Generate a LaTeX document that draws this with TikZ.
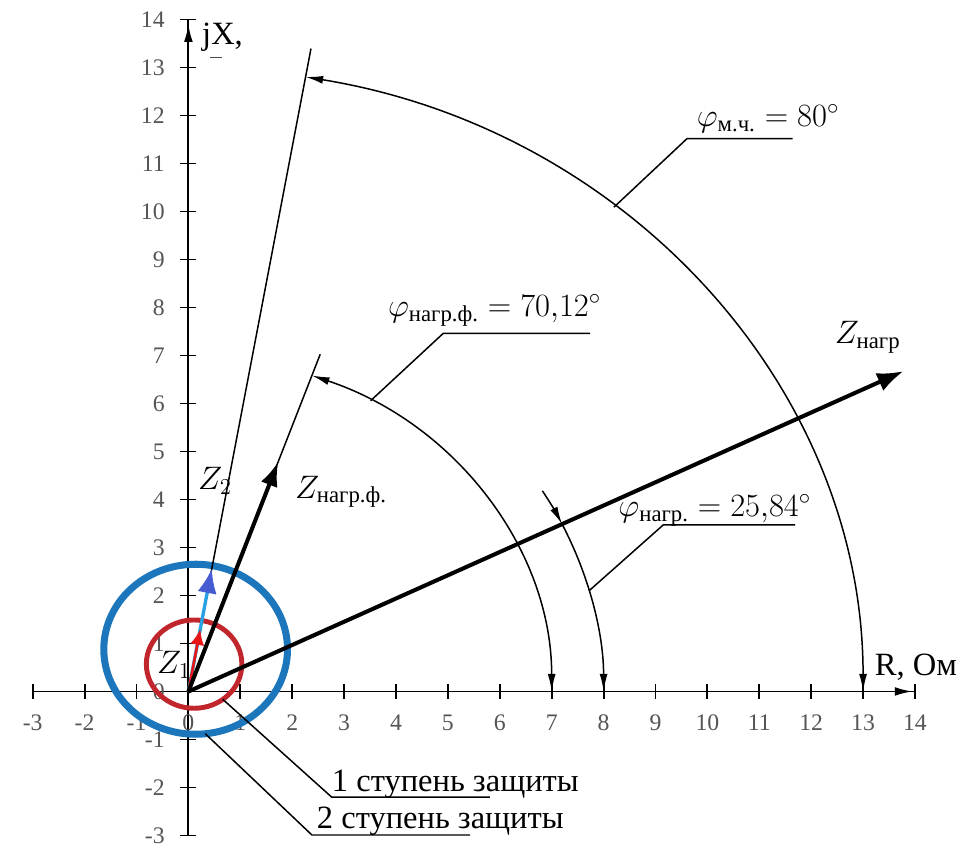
\RequirePackage{fix-cm}
\documentclass[tikz,border=0pt]{standalone}
\usepackage{amsmath}
\usepackage{fontspec}
\setmainfont{Liberation Serif}
\usetikzlibrary{arrows.meta,positioning}

\definecolor{zoneone}{RGB}{192,38,44}
\definecolor{zonetwo}{RGB}{28,118,188}
\definecolor{ztwoshaft}{RGB}{40,160,225}
\definecolor{ztwohead}{RGB}{70,92,210}
\definecolor{zonered}{RGB}{232,22,22}
\definecolor{ticklbl}{RGB}{85,85,85}

\tikzset{
  axisline/.style={line width=1.1pt},
  thinline/.style={line width=0.85pt},
  zvec/.style={line width=2.3pt, -{Latex[length=14pt,width=10pt]}},
  dimarc/.style={line width=0.85pt, -{Latex[length=10pt,width=4.5pt]}},
  ticklabel/.style={font=\fontsize{13.5}{15}\selectfont, text=ticklbl, inner sep=0pt},
  mathlabel/.style={font=\fontsize{18.5}{22}\selectfont, inner sep=0pt, anchor=base west},
  textlabel/.style={font=\fontsize{18.5}{22}\selectfont, inner sep=0pt, anchor=base west}
}

\begin{document}
\begin{tikzpicture}[x=1.038cm, y=0.96cm]
    \useasboundingbox (-3.630,-3.198) rectangle (14.848,14.406);

    % axes
    \coordinate (O) at (0,0);
    \coordinate (xend) at (13.95,0);
    \coordinate (yend) at (0,13.9);
    \draw[axisline] (-3,0) -- (14,0);
    \draw[axisline] (0,-3) -- (0,14);
    \draw[axisline, -{Latex[length=10pt,width=5pt]}] (O) -- (xend);
    \draw[axisline, -{Latex[length=10pt,width=5pt]}] (O) -- (yend);
    \foreach \i in {-3,...,14} {
        \draw[axisline] (\i,0.16) -- (\i,-0.16);
        \draw[axisline] (0.155,\i) -- (-0.155,\i);
        \node[ticklabel] (xt\i) at (\i,-0.65) {\i};
        \node[ticklabel, anchor=east] (yt\i) at (-0.45,\i) {\i};
    }
    \node[textlabel] (xlab) at (13.22,0.34) {R, Ом};
    \node[textlabel] (ylab) at (0.26,13.47) {jX,};
    \draw[line width=0.6pt, black!70] (0.42,13.2) -- (0.65,13.2);

    % protection zones
    \draw[zonetwo, line width=4pt] (0.14,0.88) ellipse [x radius=1.837cm, y radius=1.70cm];
    \draw[zoneone, line width=2.8pt] (0.11,0.57) ellipse [x radius=0.955cm, y radius=0.883cm];

    % rays
    \coordinate (mchend) at (2.362,13.393);
    \coordinate (nfend) at (2.540,7.025);
    \draw[thinline] (O) -- (mchend);
    \draw[thinline] (O) -- (nfend);

    % vectors
    \coordinate (ztwo) at (0.451,2.561);
    \coordinate (zone) at (0.229,1.300);
    \coordinate (znf) at (1.731,4.787);
    \coordinate (zn) at (13.780,6.673);
    \draw[ztwoshaft, line width=1.9pt, -{Latex[length=14pt,width=11pt,color=ztwohead]}] (O) -- (ztwo);
    \draw[zonered, line width=1.5pt, -{Latex[length=9pt,width=8pt]}] (O) -- (zone);
    \draw[zvec] (O) -- (znf);
    \draw[zvec, -{Latex[length=15pt,width=11pt]}] (O) -- (zn);

    % angle arcs
    \draw[dimarc, {Latex[length=10pt,width=4.5pt]}-{Latex[length=10pt,width=4.5pt]}]
        (13,0) arc [start angle=0, end angle=80, x radius=13.494cm, y radius=12.48cm];
    \draw[dimarc, {Latex[length=10pt,width=4.5pt]}-{Latex[length=10pt,width=4.5pt]}]
        (7,0) arc [start angle=0, end angle=70.12, x radius=7.266cm, y radius=6.72cm];
    \draw[dimarc] (6.821,4.180) arc [start angle=31.5, end angle=25.84, x radius=8.304cm, y radius=7.68cm];
    \draw[dimarc] (7.200,3.487) arc [start angle=25.84, end angle=0, x radius=8.304cm, y radius=7.68cm];

    % labels
    \node[mathlabel] (lzn) at (12.45,7.25) {$Z_{\text{нагр}}$};
    \node[mathlabel] (lznf) at (2.05,4.03) {$Z_{\text{нагр.ф.}}$};
    \node[mathlabel] (lztwo) at (0.18,4.20) {$Z_2$};
    \node[mathlabel] (lzone) at (-0.61,0.38) {$Z_1$};

    \coordinate (amch) at (8.199,10.089);
    \coordinate (kmch) at (9.61,11.52);
    \coordinate (emch) at (11.64,11.52);
    \node[mathlabel] (phimch) at (9.79,11.77) {$\varphi_{\text{м.ч.}} = 80^\circ$};
    \draw[thinline] (amch) -- (kmch) -- (emch);

    \coordinate (anf) at (3.510,6.056);
    \coordinate (knf) at (4.91,7.46);
    \coordinate (enf) at (7.74,7.46);
    \node[mathlabel] (phinf) at (3.84,7.81) {$\varphi_{\text{нагр.ф.}} = 70{,}12^\circ$};
    \draw[thinline] (anf) -- (knf) -- (enf);

    \coordinate (an) at (7.720,2.098);
    \coordinate (kn) at (9.15,3.47);
    \coordinate (en) at (11.69,3.47);
    \node[mathlabel] (phin) at (8.28,3.64) {$\varphi_{\text{нагр.}} = 25{,}84^\circ$};
    \draw[thinline] (an) -- (kn) -- (en);

    \coordinate (aone) at (0.664,-0.165);
    \coordinate (kone) at (2.76,-2.20);
    \coordinate (eone) at (5.81,-2.20);
    \node[textlabel] (stepone) at (2.76,-2.09) {1 ступень защиты};
    \draw[thinline] (aone) -- (kone) -- (eone);

    \coordinate (atwo) at (0.325,-0.88);
    \coordinate (ktwo) at (2.38,-2.99);
    \coordinate (etwo) at (5.43,-2.99);
    \node[textlabel] (steptwo) at (2.47,-2.85) {2 ступень защиты};
    \draw[thinline] (atwo) -- (ktwo) -- (etwo);
\end{tikzpicture}
\end{document}
